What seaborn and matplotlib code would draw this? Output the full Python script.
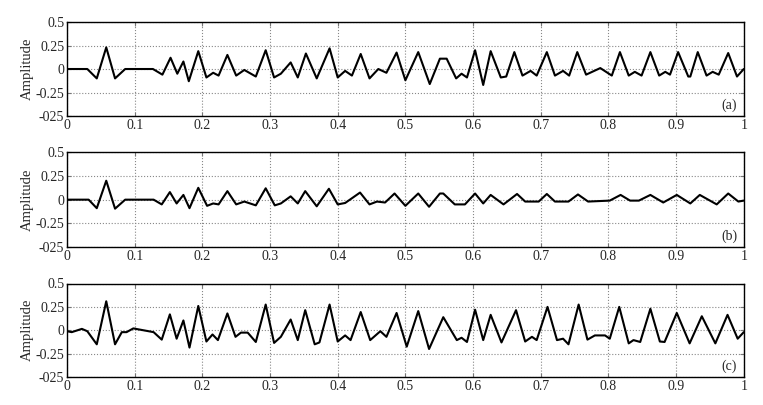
import matplotlib
matplotlib.use("Agg")
import matplotlib.pyplot as plt
import pandas as pd
import seaborn as sns

# values (time, amplitude at turning points)
t_a = [0, 0.03, 0.044, 0.058, 0.071, 0.086, 0.127, 0.141, 0.153, 0.163, 0.172, 0.180, 0.194, 0.206,
       0.216, 0.224, 0.237, 0.25, 0.262, 0.279, 0.2936, 0.306, 0.316, 0.3305, 0.341, 0.353, 0.369,
       0.388, 0.40, 0.411, 0.421, 0.434, 0.447, 0.46, 0.472, 0.487, 0.50, 0.519, 0.536, 0.551, 0.561,
       0.575, 0.583, 0.591, 0.603, 0.615, 0.626, 0.641, 0.649, 0.661, 0.673, 0.685, 0.694, 0.709,
       0.721, 0.733, 0.742, 0.754, 0.767, 0.788, 0.805, 0.817, 0.83, 0.839, 0.849, 0.862, 0.875,
       0.884, 0.891, 0.903, 0.918, 0.921, 0.932, 0.945, 0.954, 0.963, 0.977, 0.99, 1.0]
amp_a = [0, 0, -0.10, 0.23, -0.10, 0, 0, -0.06, 0.12, -0.05, 0.08, -0.13, 0.19, -0.09,
         -0.04, -0.07, 0.15, -0.07, -0.01, -0.08, 0.20, -0.09, -0.05, 0.07, -0.09, 0.165, -0.10,
         0.22, -0.09, -0.02, -0.07, 0.16, -0.10, 0.0, -0.04, 0.175, -0.12, 0.18, -0.16, 0.11, 0.11,
         -0.10, -0.05, -0.09, 0.20, -0.17, 0.19, -0.09, -0.08, 0.18, -0.07, -0.02, -0.07, 0.18,
         -0.07, -0.02, -0.07, 0.18, -0.06, 0.01, -0.07, 0.18, -0.07, -0.03, -0.07, 0.18, -0.07,
         -0.03, -0.06, 0.18, -0.08, -0.08, 0.18, -0.07, -0.03, -0.06, 0.17, -0.08, 0.0]

t_b = [0, 0.032, 0.044, 0.058, 0.071, 0.086, 0.128, 0.140, 0.152, 0.162, 0.172, 0.181, 0.194, 0.207,
       0.216, 0.224, 0.237, 0.25, 0.262, 0.279, 0.2936, 0.307, 0.316, 0.3305, 0.341, 0.352, 0.369,
       0.387, 0.40, 0.411, 0.433, 0.447, 0.458, 0.47, 0.484, 0.50, 0.519, 0.535, 0.551, 0.556,
       0.573, 0.588, 0.603, 0.615, 0.626, 0.645, 0.665, 0.677, 0.697, 0.709, 0.721, 0.741, 0.755,
       0.77, 0.802, 0.818, 0.832, 0.845, 0.862, 0.881, 0.901, 0.921, 0.935, 0.96, 0.977, 0.992, 1.0]
amp_b = [0, 0, -0.09, 0.20, -0.095, 0, 0, -0.05, 0.08, -0.04, 0.05, -0.09, 0.125, -0.065,
         -0.04, -0.05, 0.09, -0.05, -0.02, -0.06, 0.12, -0.06, -0.04, 0.035, -0.04, 0.09, -0.07,
         0.115, -0.05, -0.035, 0.075, -0.05, -0.02, -0.03, 0.065, -0.065, 0.065, -0.075, 0.065, 0.065,
         -0.05, -0.05, 0.065, -0.04, 0.05, -0.05, 0.06, -0.02, -0.02, 0.06, -0.02, -0.02, 0.055,
         -0.02, -0.01, 0.05, -0.01, -0.01, 0.05, -0.03, 0.05, -0.04, 0.05, -0.05, 0.065, -0.02, -0.01]

t_c = [0, 0.007, 0.022, 0.03, 0.044, 0.058, 0.071, 0.081, 0.088, 0.098, 0.113, 0.128, 0.140, 0.152,
       0.162, 0.172, 0.181, 0.194, 0.206, 0.215, 0.223, 0.237, 0.249, 0.257, 0.267, 0.279, 0.2936,
       0.306, 0.316, 0.3305, 0.341, 0.352, 0.366, 0.373, 0.388, 0.40, 0.411, 0.419, 0.434, 0.448,
       0.463, 0.472, 0.487, 0.502, 0.519, 0.535, 0.556, 0.576, 0.583, 0.591, 0.603, 0.615, 0.626,
       0.642, 0.6635, 0.677, 0.687, 0.694, 0.710, 0.724, 0.733, 0.741, 0.756, 0.769, 0.78, 0.795,
       0.802, 0.816, 0.83, 0.837, 0.847, 0.862, 0.876, 0.883, 0.901, 0.92, 0.938, 0.958, 0.976,
       0.991, 1.0]
amp_c = [-0.01, -0.02, 0.015, -0.01, -0.15, 0.31, -0.15, -0.02, -0.02, 0.02, 0.0, -0.02, -0.10, 0.17,
         -0.09, 0.105, -0.185, 0.26, -0.12, -0.045, -0.105, 0.18, -0.07, -0.025, -0.025, -0.125, 0.275,
         -0.135, -0.07, 0.115, -0.105, 0.215, -0.15, -0.13, 0.275, -0.12, -0.055, -0.105, 0.195, -0.105,
         -0.01, -0.07, 0.185, -0.175, 0.205, -0.20, 0.14, -0.105, -0.08, -0.125, 0.22, -0.105, 0.165,
         -0.13, 0.215, -0.12, -0.07, -0.105, 0.25, -0.105, -0.09, -0.15, 0.275, -0.10, -0.055, -0.055,
         -0.09, 0.25, -0.14, -0.105, -0.125, 0.23, -0.12, -0.125, 0.185, -0.14, 0.15, -0.14, 0.165,
         -0.09, -0.02]

panel_tags = ["(a)", "(b)", "(c)"]
x_ticks = [0, 0.1, 0.2, 0.3, 0.4, 0.5, 0.6, 0.7, 0.8, 0.9, 1.0]
x_labels = ["0", "0.1", "0.2", "0.3", "0.4", "0.5", "0.6", "0.7", "0.8", "0.9", "1"]
y_ticks = [-0.5, -0.25, 0, 0.25, 0.5]
y_labels = ["-025", "-0.25", "0", "0.25", "0.5"]

sns.set_style("ticks")
plt.rcParams["font.family"] = "serif"
plt.rcParams["font.serif"] = ["Liberation Serif", "DejaVu Serif"]
plt.rcParams["xtick.direction"] = "in"
plt.rcParams["ytick.direction"] = "in"

fig = plt.figure(figsize=(7.63, 4.05), dpi=100)
boxes = [[0.0878, 0.7136, 0.887, 0.232],
         [0.0878, 0.390, 0.887, 0.234],
         [0.0878, 0.069, 0.887, 0.231]]
series = [(t_a, amp_a), (t_b, amp_b), (t_c, amp_c)]

for i, (box, (t, amp)) in enumerate(zip(boxes, series)):
    ax = fig.add_axes(box)
    df = pd.DataFrame({"t": t, "amp": amp})
    sns.lineplot(data=df, x="t", y="amp", ax=ax, color="black", linewidth=1.5,
                 solid_joinstyle="round")
    ax.set_xlim(0, 1)
    ax.set_ylim(-0.5, 0.5)
    ax.set_xticks(x_ticks)
    ax.set_xticklabels(x_labels)
    ax.set_yticks(y_ticks)
    ax.set_yticklabels(y_labels)
    ax.tick_params(labelsize=10, length=3, top=True, right=True, pad=2, color="#777777")
    ax.grid(True, linestyle=":", color="#888888", linewidth=0.8)
    for s in ax.spines.values():
        s.set_color("black")
        s.set_linewidth(1.0)
    ax.set_xlabel("")
    ax.set_ylabel("Amplitude", fontsize=10.5, labelpad=1)
    ax.text(0.99, 0.04, panel_tags[i], transform=ax.transAxes, ha="right", va="bottom",
            fontsize=10)

fig.savefig("out.png", dpi=100)
